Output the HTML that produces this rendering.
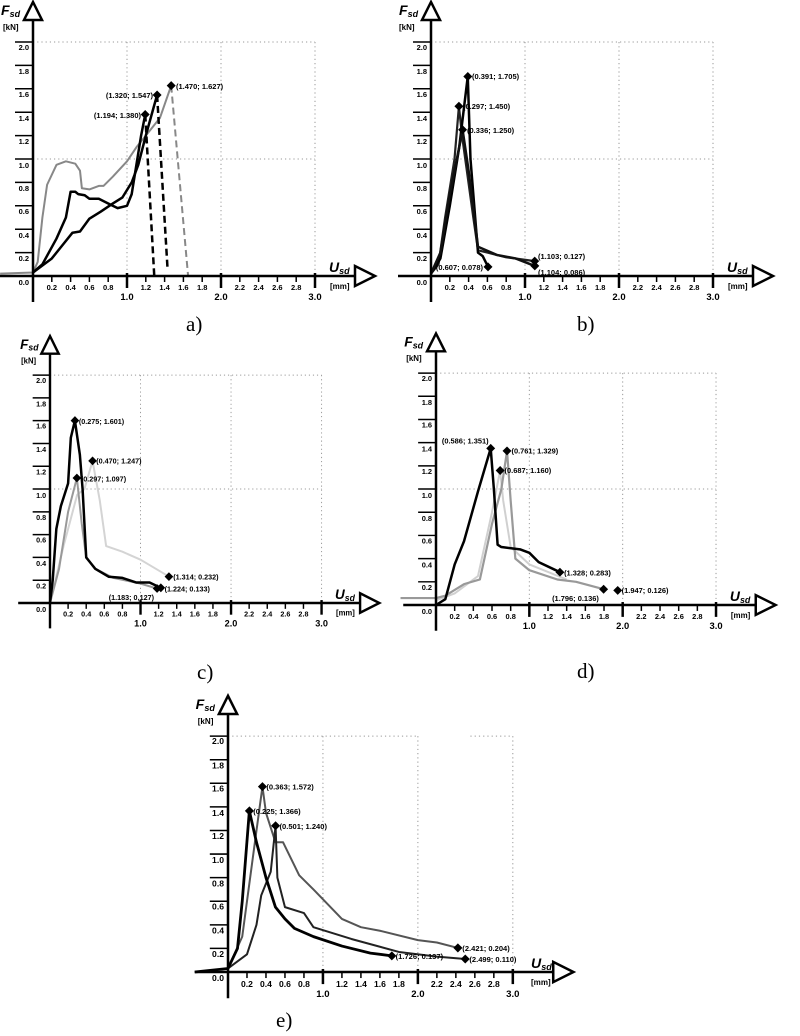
<!DOCTYPE html>
<html><head><meta charset="utf-8"><style>
body{margin:0;background:#fff}
svg{display:block}
text{font-family:"Liberation Sans",sans-serif;font-weight:bold;fill:#000}
.t{font-size:7.5px}
.mj{font-size:9.5px}
.lb{font-size:7.5px;font-weight:bold}
.cap{font-family:"Liberation Serif",serif;font-weight:normal;font-size:21px}
.g{stroke:#999;stroke-width:1;stroke-dasharray:1.2,3;fill:none}
.c{fill:none;stroke-linejoin:round;vector-effect:non-scaling-stroke}
</style></head><body>
<svg width="800" height="1036" viewBox="0 0 800 1036" xmlns="http://www.w3.org/2000/svg">
<defs>
<path id="dm" d="M0,-4.5 L4.5,0 L0,4.5 L-4.5,0Z" fill="#000"/>
</defs>

<!-- ===== Panel a ===== -->
<g transform="translate(33,276)">
<g class="g"><line x1="0" y1="-234" x2="282" y2="-234"/><line x1="0" y1="-117" x2="282" y2="-117"/><line x1="94" y1="-234" x2="94" y2="0"/><line x1="188" y1="-234" x2="188" y2="0"/><line x1="282" y1="-234" x2="282" y2="0"/></g>
<g transform="scale(94,-117)">
<polyline class="c" stroke="#888" stroke-width="2" points="-0.35,0.02 0,0.03 0.05,0.12 0.1,0.5 0.15,0.78 0.25,0.95 0.35,0.98 0.45,0.96 0.5,0.9 0.52,0.75 0.6,0.74 0.7,0.77 0.75,0.77 0.85,0.85 1,0.98 1.1,1.1 1.2,1.2 1.35,1.35 1.47,1.627"/>
<polyline class="c" stroke="#888" stroke-width="2" stroke-dasharray="7,4" points="1.47,1.627 1.65,0"/>
<polyline class="c" stroke="#000" stroke-width="2.5" points="0,0.03 0.1,0.1 0.25,0.32 0.35,0.5 0.4,0.72 0.45,0.72 0.48,0.7 0.55,0.69 0.6,0.66 0.7,0.66 0.8,0.62 0.9,0.58 1,0.6 1.05,0.7 1.1,0.95 1.15,1.2 1.194,1.38"/>
<polyline class="c" stroke="#000" stroke-width="2.5" stroke-dasharray="7,4" points="1.194,1.38 1.29,0"/>
<polyline class="c" stroke="#000" stroke-width="2.5" points="0,0.03 0.2,0.15 0.3,0.25 0.42,0.37 0.5,0.38 0.6,0.49 0.72,0.55 0.85,0.62 0.95,0.67 1.05,0.8 1.12,0.95 1.2,1.2 1.32,1.547"/>
<polyline class="c" stroke="#000" stroke-width="2.5" stroke-dasharray="7,4" points="1.32,1.547 1.43,0.08"/>
</g>
<use href="#dm" x="112.2" y="-161.5"/><use href="#dm" x="124.1" y="-181"/><use href="#dm" x="138.2" y="-190.4"/>
<text class="lb" x="108" y="-158" text-anchor="end">(1.194; 1.380)</text>
<text class="lb" x="120" y="-178" text-anchor="end">(1.320; 1.547)</text>
<text class="lb" x="143" y="-187">(1.470; 1.627)</text>
<g id="axA">
<line x1="-33" y1="0" x2="322" y2="0" stroke="#000" stroke-width="2.5"/>
<polygon points="322,-10 322,10 342,0" fill="#fff" stroke="#000" stroke-width="2.5"/>
<line x1="0" y1="-256" x2="0" y2="26" stroke="#000" stroke-width="2.5"/>
<polygon points="-9,-256 9,-256 0,-274" fill="#fff" stroke="#000" stroke-width="2.5"/>
<g stroke="#000" stroke-width="1.5">
<line x1="-18" y1="-23.4" x2="0" y2="-23.4"/><line x1="-18" y1="-46.8" x2="0" y2="-46.8"/><line x1="-18" y1="-70.2" x2="0" y2="-70.2"/><line x1="-18" y1="-93.6" x2="0" y2="-93.6"/><line x1="-18" y1="-117" x2="0" y2="-117"/><line x1="-18" y1="-140.4" x2="0" y2="-140.4"/><line x1="-18" y1="-163.8" x2="0" y2="-163.8"/><line x1="-18" y1="-187.2" x2="0" y2="-187.2"/><line x1="-18" y1="-210.6" x2="0" y2="-210.6"/><line x1="-18" y1="-234" x2="0" y2="-234"/>
<line x1="18.8" y1="0" x2="18.8" y2="6"/><line x1="37.6" y1="0" x2="37.6" y2="6"/><line x1="56.4" y1="0" x2="56.4" y2="6"/><line x1="75.2" y1="0" x2="75.2" y2="6"/><line x1="112.8" y1="0" x2="112.8" y2="6"/><line x1="131.6" y1="0" x2="131.6" y2="6"/><line x1="150.4" y1="0" x2="150.4" y2="6"/><line x1="169.2" y1="0" x2="169.2" y2="6"/><line x1="206.8" y1="0" x2="206.8" y2="6"/><line x1="225.6" y1="0" x2="225.6" y2="6"/><line x1="244.4" y1="0" x2="244.4" y2="6"/><line x1="263.2" y1="0" x2="263.2" y2="6"/>
</g>
<g stroke="#000" stroke-width="2.5"><line x1="94" y1="-3" x2="94" y2="12"/><line x1="188" y1="-3" x2="188" y2="12"/><line x1="282" y1="-3" x2="282" y2="12"/></g>
<g class="t" text-anchor="end">
<text x="-4" y="-15">0.2</text><text x="-4" y="-38">0.4</text><text x="-4" y="-62">0.6</text><text x="-4" y="-85">0.8</text><text x="-4" y="-108">1.0</text><text x="-4" y="-132">1.2</text><text x="-4" y="-155">1.4</text><text x="-4" y="-179">1.6</text><text x="-4" y="-202">1.8</text><text x="-4" y="-226">2.0</text><text x="-4" y="9">0.0</text>
</g>
<g class="t" text-anchor="middle">
<text x="18.8" y="14">0.2</text><text x="37.6" y="14">0.4</text><text x="56.4" y="14">0.6</text><text x="75.2" y="14">0.8</text><text x="112.8" y="14">1.2</text><text x="131.6" y="14">1.4</text><text x="150.4" y="14">1.6</text><text x="169.2" y="14">1.8</text><text x="206.8" y="14">2.2</text><text x="225.6" y="14">2.4</text><text x="244.4" y="14">2.6</text><text x="263.2" y="14">2.8</text>
</g>
<g class="mj" text-anchor="middle"><text x="94" y="24">1.0</text><text x="188" y="24">2.0</text><text x="282" y="24">3.0</text></g>
<text x="-32" y="-261" style="font-size:14px;font-style:italic">F<tspan style="font-size:9px" dy="2">sd</tspan></text>
<text x="-30" y="-246" style="font-size:8px">[kN]</text>
<text x="296" y="-4" style="font-size:14px;font-style:italic">U<tspan style="font-size:9px" dy="2">sd</tspan></text>
<text x="297" y="13" style="font-size:8px">[mm]</text>
</g>
</g>
<text class="cap" x="186" y="331">a)</text>

<!-- ===== Panel b ===== -->
<g transform="translate(431,276)">
<g class="g"><line x1="0" y1="-234" x2="282" y2="-234"/><line x1="0" y1="-117" x2="282" y2="-117"/><line x1="94" y1="-234" x2="94" y2="0"/><line x1="188" y1="-234" x2="188" y2="0"/><line x1="282" y1="-234" x2="282" y2="0"/></g>
<g transform="scale(94,-117)">
<polyline class="c" stroke="#222" stroke-width="2.2" points="0,0.02 0.08,0.1 0.15,0.5 0.25,1.0 0.297,1.45 0.33,1.2 0.45,0.5 0.5,0.22 0.6,0.2 0.8,0.16 1.103,0.127"/>
<polyline class="c" stroke="#000" stroke-width="2.5" points="0,0.02 0.1,0.15 0.2,0.6 0.3,1.1 0.391,1.705 0.42,1.0 0.5,0.2 0.55,0.17 0.607,0.078"/>
<polyline class="c" stroke="#111" stroke-width="2.5" points="0,0.02 0.1,0.2 0.2,0.7 0.3,1.1 0.336,1.25 0.4,0.9 0.5,0.25 0.7,0.18 0.9,0.15 1.104,0.086"/>
</g>
<use href="#dm" x="36.8" y="-199.5"/><use href="#dm" x="27.9" y="-169.7"/><use href="#dm" x="31.6" y="-146.3"/><use href="#dm" x="103.7" y="-14.9"/><use href="#dm" x="103.8" y="-10.1"/><use href="#dm" x="57" y="-9.1"/>
<text class="lb" x="41" y="-197">(0.391; 1.705)</text>
<text class="lb" x="32" y="-167">(0.297; 1.450)</text>
<text class="lb" x="36" y="-143">(0.336; 1.250)</text>
<text class="lb" x="107" y="-17">(1.103; 0.127)</text>
<text class="lb" x="107" y="-1">(1.104; 0.086)</text>
<text class="lb" x="52" y="-6" text-anchor="end">(0.607; 0.078)</text>
<line x1="-33" y1="0" x2="322" y2="0" stroke="#000" stroke-width="2.5"/>
<polygon points="322,-10 322,10 342,0" fill="#fff" stroke="#000" stroke-width="2.5"/>
<line x1="0" y1="-256" x2="0" y2="26" stroke="#000" stroke-width="2.5"/>
<polygon points="-9,-256 9,-256 0,-274" fill="#fff" stroke="#000" stroke-width="2.5"/>
<g stroke="#000" stroke-width="1.5">
<line x1="-18" y1="-23.4" x2="0" y2="-23.4"/><line x1="-18" y1="-46.8" x2="0" y2="-46.8"/><line x1="-18" y1="-70.2" x2="0" y2="-70.2"/><line x1="-18" y1="-93.6" x2="0" y2="-93.6"/><line x1="-18" y1="-117" x2="0" y2="-117"/><line x1="-18" y1="-140.4" x2="0" y2="-140.4"/><line x1="-18" y1="-163.8" x2="0" y2="-163.8"/><line x1="-18" y1="-187.2" x2="0" y2="-187.2"/><line x1="-18" y1="-210.6" x2="0" y2="-210.6"/><line x1="-18" y1="-234" x2="0" y2="-234"/>
<line x1="18.8" y1="0" x2="18.8" y2="6"/><line x1="37.6" y1="0" x2="37.6" y2="6"/><line x1="56.4" y1="0" x2="56.4" y2="6"/><line x1="75.2" y1="0" x2="75.2" y2="6"/><line x1="112.8" y1="0" x2="112.8" y2="6"/><line x1="131.6" y1="0" x2="131.6" y2="6"/><line x1="150.4" y1="0" x2="150.4" y2="6"/><line x1="169.2" y1="0" x2="169.2" y2="6"/><line x1="206.8" y1="0" x2="206.8" y2="6"/><line x1="225.6" y1="0" x2="225.6" y2="6"/><line x1="244.4" y1="0" x2="244.4" y2="6"/><line x1="263.2" y1="0" x2="263.2" y2="6"/>
</g>
<g stroke="#000" stroke-width="2.5"><line x1="94" y1="-3" x2="94" y2="12"/><line x1="188" y1="-3" x2="188" y2="12"/><line x1="282" y1="-3" x2="282" y2="12"/></g>
<g class="t" text-anchor="end">
<text x="-4" y="-15">0.2</text><text x="-4" y="-38">0.4</text><text x="-4" y="-62">0.6</text><text x="-4" y="-85">0.8</text><text x="-4" y="-108">1.0</text><text x="-4" y="-132">1.2</text><text x="-4" y="-155">1.4</text><text x="-4" y="-179">1.6</text><text x="-4" y="-202">1.8</text><text x="-4" y="-226">2.0</text><text x="-4" y="9">0.0</text>
</g>
<g class="t" text-anchor="middle">
<text x="18.8" y="14">0.2</text><text x="37.6" y="14">0.4</text><text x="56.4" y="14">0.6</text><text x="75.2" y="14">0.8</text><text x="112.8" y="14">1.2</text><text x="131.6" y="14">1.4</text><text x="150.4" y="14">1.6</text><text x="169.2" y="14">1.8</text><text x="206.8" y="14">2.2</text><text x="225.6" y="14">2.4</text><text x="244.4" y="14">2.6</text><text x="263.2" y="14">2.8</text>
</g>
<g class="mj" text-anchor="middle"><text x="94" y="24">1.0</text><text x="188" y="24">2.0</text><text x="282" y="24">3.0</text></g>
<text x="-32" y="-261" style="font-size:14px;font-style:italic">F<tspan style="font-size:9px" dy="2">sd</tspan></text>
<text x="-32" y="-246" style="font-size:8px">[kN]</text>
<text x="296" y="-4" style="font-size:14px;font-style:italic">U<tspan style="font-size:9px" dy="2">sd</tspan></text>
<text x="297" y="13" style="font-size:8px">[mm]</text>
</g>
<text class="cap" x="577" y="331">b)</text>

<!-- ===== Panel c ===== -->
<g transform="translate(50,603) scale(0.963,0.974)">
<g class="g"><line x1="0" y1="-234" x2="282" y2="-234"/><line x1="0" y1="-117" x2="282" y2="-117"/><line x1="94" y1="-234" x2="94" y2="0"/><line x1="188" y1="-234" x2="188" y2="0"/><line x1="282" y1="-234" x2="282" y2="0"/></g>
<g transform="scale(94,-117)">
<polyline class="c" stroke="#d4d4d4" stroke-width="2" points="0,0 0.15,0.5 0.3,0.95 0.38,1.0 0.47,1.247 0.55,0.9 0.62,0.5 0.8,0.45 1.0,0.38 1.314,0.232"/>
<polyline class="c" stroke="#999" stroke-width="2" points="-0.35,0 0,0 0.1,0.3 0.2,0.8 0.297,1.097 0.35,0.7 0.4,0.4 0.5,0.3 0.7,0.22 1.0,0.17 1.183,0.127"/>
<polyline class="c" stroke="#000" stroke-width="2.5" points="0,0 0.03,0.2 0.07,0.65 0.12,0.85 0.2,1.05 0.23,1.45 0.275,1.601 0.33,1.3 0.36,1.0 0.4,0.4 0.45,0.35 0.5,0.3 0.65,0.23 0.8,0.22 0.95,0.18 1.1,0.18 1.224,0.133"/>
</g>
<use href="#dm" x="25.9" y="-187.3"/><use href="#dm" x="44.2" y="-145.9"/><use href="#dm" x="27.9" y="-128.3"/><use href="#dm" x="123.5" y="-27.1"/><use href="#dm" x="115.1" y="-15.6"/><use href="#dm" x="111.2" y="-14.9"/>
<text class="lb" x="30" y="-184">(0.275; 1.601)</text>
<text class="lb" x="48" y="-143">(0.470; 1.247)</text>
<text class="lb" x="32" y="-125">(0.297; 1.097)</text>
<text class="lb" x="128" y="-24">(1.314; 0.232)</text>
<text class="lb" x="119" y="-12">(1.224; 0.133)</text>
<text class="lb" x="108" y="-3" text-anchor="end">(1.183; 0,127)</text>
<line x1="-33" y1="0" x2="322" y2="0" stroke="#000" stroke-width="2.5"/>
<polygon points="322,-10 322,10 342,0" fill="#fff" stroke="#000" stroke-width="2.5"/>
<line x1="0" y1="-256" x2="0" y2="26" stroke="#000" stroke-width="2.5"/>
<polygon points="-9,-256 9,-256 0,-274" fill="#fff" stroke="#000" stroke-width="2.5"/>
<g stroke="#000" stroke-width="1.5">
<line x1="-18" y1="-23.4" x2="0" y2="-23.4"/><line x1="-18" y1="-46.8" x2="0" y2="-46.8"/><line x1="-18" y1="-70.2" x2="0" y2="-70.2"/><line x1="-18" y1="-93.6" x2="0" y2="-93.6"/><line x1="-18" y1="-117" x2="0" y2="-117"/><line x1="-18" y1="-140.4" x2="0" y2="-140.4"/><line x1="-18" y1="-163.8" x2="0" y2="-163.8"/><line x1="-18" y1="-187.2" x2="0" y2="-187.2"/><line x1="-18" y1="-210.6" x2="0" y2="-210.6"/><line x1="-18" y1="-234" x2="0" y2="-234"/>
<line x1="18.8" y1="0" x2="18.8" y2="6"/><line x1="37.6" y1="0" x2="37.6" y2="6"/><line x1="56.4" y1="0" x2="56.4" y2="6"/><line x1="75.2" y1="0" x2="75.2" y2="6"/><line x1="112.8" y1="0" x2="112.8" y2="6"/><line x1="131.6" y1="0" x2="131.6" y2="6"/><line x1="150.4" y1="0" x2="150.4" y2="6"/><line x1="169.2" y1="0" x2="169.2" y2="6"/><line x1="206.8" y1="0" x2="206.8" y2="6"/><line x1="225.6" y1="0" x2="225.6" y2="6"/><line x1="244.4" y1="0" x2="244.4" y2="6"/><line x1="263.2" y1="0" x2="263.2" y2="6"/>
</g>
<g stroke="#000" stroke-width="2.5"><line x1="94" y1="-3" x2="94" y2="12"/><line x1="188" y1="-3" x2="188" y2="12"/><line x1="282" y1="-3" x2="282" y2="12"/></g>
<g class="t" text-anchor="end">
<text x="-4" y="-15">0.2</text><text x="-4" y="-38">0.4</text><text x="-4" y="-62">0.6</text><text x="-4" y="-85">0.8</text><text x="-4" y="-108">1.0</text><text x="-4" y="-132">1.2</text><text x="-4" y="-155">1.4</text><text x="-4" y="-179">1.6</text><text x="-4" y="-202">1.8</text><text x="-4" y="-226">2.0</text><text x="-4" y="9">0.0</text>
</g>
<g class="t" text-anchor="middle">
<text x="18.8" y="14">0.2</text><text x="37.6" y="14">0.4</text><text x="56.4" y="14">0.6</text><text x="75.2" y="14">0.8</text><text x="112.8" y="14">1.2</text><text x="131.6" y="14">1.4</text><text x="150.4" y="14">1.6</text><text x="169.2" y="14">1.8</text><text x="206.8" y="14">2.2</text><text x="225.6" y="14">2.4</text><text x="244.4" y="14">2.6</text><text x="263.2" y="14">2.8</text>
</g>
<g class="mj" text-anchor="middle"><text x="94" y="24">1.0</text><text x="188" y="24">2.0</text><text x="282" y="24">3.0</text></g>
<text x="-31" y="-261" style="font-size:14px;font-style:italic">F<tspan style="font-size:9px" dy="2">sd</tspan></text>
<text x="-30" y="-246" style="font-size:8px">[kN]</text>
<text x="296" y="-4" style="font-size:14px;font-style:italic">U<tspan style="font-size:9px" dy="2">sd</tspan></text>
<text x="297" y="13" style="font-size:8px">[mm]</text>
</g>
<text class="cap" x="197" y="679">c)</text>

<!-- ===== Panel d ===== -->
<g transform="translate(436,605) scale(0.993,0.991)">
<g class="g"><line x1="0" y1="-234" x2="282" y2="-234"/><line x1="0" y1="-117" x2="282" y2="-117"/><line x1="94" y1="-234" x2="94" y2="0"/><line x1="188" y1="-234" x2="188" y2="0"/><line x1="282" y1="-234" x2="282" y2="0"/></g>
<g transform="scale(94,-117)">
<polyline class="c" stroke="#d0d0d0" stroke-width="2" points="0,0.04 0.2,0.1 0.45,0.25 0.6,0.8 0.687,1.16 0.72,0.9 0.8,0.5 1.0,0.35 1.4,0.22"/>
<polyline class="c" stroke="#999" stroke-width="2.2" points="-0.38,0.06 0,0.06 0.1,0.08 0.3,0.18 0.47,0.22 0.6,0.7 0.7,1.0 0.761,1.329 0.8,0.9 0.85,0.4 1.0,0.3 1.3,0.22 1.5,0.2 1.796,0.136"/>
<polyline class="c" stroke="#000" stroke-width="2.5" points="0,0 0.1,0.05 0.2,0.35 0.3,0.55 0.45,0.98 0.586,1.351 0.62,1.0 0.66,0.52 0.7,0.5 0.9,0.48 1.0,0.45 1.1,0.37 1.328,0.283"/>
</g>
<use href="#dm" x="55.1" y="-158.1"/><use href="#dm" x="71.5" y="-155.5"/><use href="#dm" x="64.6" y="-135.7"/><use href="#dm" x="124.8" y="-33.1"/><use href="#dm" x="168.8" y="-15.9"/><use href="#dm" x="183" y="-14.7"/>
<text class="lb" x="53" y="-163" text-anchor="end">(0.586; 1.351)</text>
<text class="lb" x="76" y="-153">(0.761; 1.329)</text>
<text class="lb" x="69" y="-133">(0.687; 1.160)</text>
<text class="lb" x="129" y="-30">(1.328; 0.283)</text>
<text class="lb" x="164" y="-4" text-anchor="end">(1.796; 0.136)</text>
<text class="lb" x="187" y="-12">(1.947; 0.126)</text>
<line x1="-33" y1="0" x2="322" y2="0" stroke="#000" stroke-width="2.5"/>
<polygon points="322,-10 322,10 342,0" fill="#fff" stroke="#000" stroke-width="2.5"/>
<line x1="0" y1="-256" x2="0" y2="26" stroke="#000" stroke-width="2.5"/>
<polygon points="-9,-256 9,-256 0,-274" fill="#fff" stroke="#000" stroke-width="2.5"/>
<g stroke="#000" stroke-width="1.5">
<line x1="-18" y1="-23.4" x2="0" y2="-23.4"/><line x1="-18" y1="-46.8" x2="0" y2="-46.8"/><line x1="-18" y1="-70.2" x2="0" y2="-70.2"/><line x1="-18" y1="-93.6" x2="0" y2="-93.6"/><line x1="-18" y1="-117" x2="0" y2="-117"/><line x1="-18" y1="-140.4" x2="0" y2="-140.4"/><line x1="-18" y1="-163.8" x2="0" y2="-163.8"/><line x1="-18" y1="-187.2" x2="0" y2="-187.2"/><line x1="-18" y1="-210.6" x2="0" y2="-210.6"/><line x1="-18" y1="-234" x2="0" y2="-234"/>
<line x1="18.8" y1="0" x2="18.8" y2="6"/><line x1="37.6" y1="0" x2="37.6" y2="6"/><line x1="56.4" y1="0" x2="56.4" y2="6"/><line x1="75.2" y1="0" x2="75.2" y2="6"/><line x1="112.8" y1="0" x2="112.8" y2="6"/><line x1="131.6" y1="0" x2="131.6" y2="6"/><line x1="150.4" y1="0" x2="150.4" y2="6"/><line x1="169.2" y1="0" x2="169.2" y2="6"/><line x1="206.8" y1="0" x2="206.8" y2="6"/><line x1="225.6" y1="0" x2="225.6" y2="6"/><line x1="244.4" y1="0" x2="244.4" y2="6"/><line x1="263.2" y1="0" x2="263.2" y2="6"/>
</g>
<g stroke="#000" stroke-width="2.5"><line x1="94" y1="-3" x2="94" y2="12"/><line x1="188" y1="-3" x2="188" y2="12"/><line x1="282" y1="-3" x2="282" y2="12"/></g>
<g class="t" text-anchor="end">
<text x="-4" y="-15">0.2</text><text x="-4" y="-38">0.4</text><text x="-4" y="-62">0.6</text><text x="-4" y="-85">0.8</text><text x="-4" y="-108">1.0</text><text x="-4" y="-132">1.2</text><text x="-4" y="-155">1.4</text><text x="-4" y="-179">1.6</text><text x="-4" y="-202">1.8</text><text x="-4" y="-226">2.0</text><text x="-4" y="9">0.0</text>
</g>
<g class="t" text-anchor="middle">
<text x="18.8" y="14">0.2</text><text x="37.6" y="14">0.4</text><text x="56.4" y="14">0.6</text><text x="75.2" y="14">0.8</text><text x="112.8" y="14">1.2</text><text x="131.6" y="14">1.4</text><text x="150.4" y="14">1.6</text><text x="169.2" y="14">1.8</text><text x="206.8" y="14">2.2</text><text x="225.6" y="14">2.4</text><text x="244.4" y="14">2.6</text><text x="263.2" y="14">2.8</text>
</g>
<g class="mj" text-anchor="middle"><text x="94" y="24">1.0</text><text x="188" y="24">2.0</text><text x="282" y="24">3.0</text></g>
<text x="-32" y="-261" style="font-size:14px;font-style:italic">F<tspan style="font-size:9px" dy="2">sd</tspan></text>
<text x="-30" y="-246" style="font-size:8px">[kN]</text>
<text x="296" y="-4" style="font-size:14px;font-style:italic">U<tspan style="font-size:9px" dy="2">sd</tspan></text>
<text x="297" y="13" style="font-size:8px">[mm]</text>
</g>
<text class="cap" x="577" y="678">d)</text>

<!-- ===== Panel e ===== -->
<g transform="translate(228,972) scale(1.01,1.008)">
<g class="g"><line x1="0" y1="-234" x2="188" y2="-234"/><line x1="240" y1="-234" x2="282" y2="-234"/><line x1="94" y1="-234" x2="94" y2="0"/><line x1="188" y1="-234" x2="188" y2="0"/><line x1="282" y1="-234" x2="282" y2="0"/></g>
<g transform="scale(94,-117)">
<polyline class="c" stroke="#555" stroke-width="2" points="0,0.03 0.15,0.3 0.25,0.9 0.3,1.2 0.363,1.572 0.4,1.35 0.5,1.1 0.58,1.1 0.75,0.82 0.9,0.7 1.2,0.45 1.4,0.38 1.6,0.35 2.0,0.27 2.2,0.25 2.421,0.204"/>
<polyline class="c" stroke="#222" stroke-width="2" points="0,0.03 0.2,0.15 0.3,0.4 0.35,0.65 0.45,0.85 0.501,1.24 0.52,0.8 0.6,0.55 0.8,0.5 0.9,0.38 1.3,0.28 1.8,0.17 2.2,0.13 2.499,0.11"/>
<polyline class="c" stroke="#000" stroke-width="2.8" points="-0.35,0 0,0.03 0.1,0.2 0.15,0.6 0.225,1.366 0.3,1.1 0.4,0.8 0.5,0.55 0.6,0.45 0.7,0.37 0.9,0.3 1.2,0.22 1.5,0.16 1.726,0.137"/>
</g>
<use href="#dm" x="34.1" y="-183.9"/><use href="#dm" x="21.2" y="-159.8"/><use href="#dm" x="47.1" y="-145.1"/><use href="#dm" x="227.6" y="-23.9"/><use href="#dm" x="234.9" y="-12.9"/><use href="#dm" x="162.2" y="-16"/>
<text class="lb" x="38" y="-181">(0.363; 1.572)</text>
<text class="lb" x="25" y="-157">(0.225; 1.366)</text>
<text class="lb" x="51" y="-142">(0.501; 1.240)</text>
<text class="lb" x="232" y="-21">(2.421; 0.204)</text>
<text class="lb" x="239" y="-10">(2.499; 0.110)</text>
<text class="lb" x="166" y="-13">(1.726; 0.137)</text>
<line x1="-33" y1="0" x2="322" y2="0" stroke="#000" stroke-width="2.5"/>
<polygon points="322,-10 322,10 342,0" fill="#fff" stroke="#000" stroke-width="2.5"/>
<line x1="0" y1="-256" x2="0" y2="26" stroke="#000" stroke-width="2.5"/>
<polygon points="-9,-256 9,-256 0,-274" fill="#fff" stroke="#000" stroke-width="2.5"/>
<g stroke="#000" stroke-width="1.5">
<line x1="-18" y1="-23.4" x2="0" y2="-23.4"/><line x1="-18" y1="-46.8" x2="0" y2="-46.8"/><line x1="-18" y1="-70.2" x2="0" y2="-70.2"/><line x1="-18" y1="-93.6" x2="0" y2="-93.6"/><line x1="-18" y1="-117" x2="0" y2="-117"/><line x1="-18" y1="-140.4" x2="0" y2="-140.4"/><line x1="-18" y1="-163.8" x2="0" y2="-163.8"/><line x1="-18" y1="-187.2" x2="0" y2="-187.2"/><line x1="-18" y1="-210.6" x2="0" y2="-210.6"/><line x1="-18" y1="-234" x2="0" y2="-234"/>
<line x1="18.8" y1="0" x2="18.8" y2="6"/><line x1="37.6" y1="0" x2="37.6" y2="6"/><line x1="56.4" y1="0" x2="56.4" y2="6"/><line x1="75.2" y1="0" x2="75.2" y2="6"/><line x1="112.8" y1="0" x2="112.8" y2="6"/><line x1="131.6" y1="0" x2="131.6" y2="6"/><line x1="150.4" y1="0" x2="150.4" y2="6"/><line x1="169.2" y1="0" x2="169.2" y2="6"/><line x1="206.8" y1="0" x2="206.8" y2="6"/><line x1="225.6" y1="0" x2="225.6" y2="6"/><line x1="244.4" y1="0" x2="244.4" y2="6"/><line x1="263.2" y1="0" x2="263.2" y2="6"/>
</g>
<g stroke="#000" stroke-width="2.5"><line x1="94" y1="-3" x2="94" y2="12"/><line x1="188" y1="-3" x2="188" y2="12"/><line x1="282" y1="-3" x2="282" y2="12"/></g>
<g class="t" text-anchor="end" style="font-size:8.5px">
<text x="-4" y="-15">0.2</text><text x="-4" y="-38">0.4</text><text x="-4" y="-62">0.6</text><text x="-4" y="-85">0.8</text><text x="-4" y="-108">1.0</text><text x="-4" y="-132">1.2</text><text x="-4" y="-155">1.4</text><text x="-4" y="-179">1.6</text><text x="-4" y="-202">1.8</text><text x="-4" y="-226">2.0</text><text x="-4" y="9">0.0</text>
</g>
<g class="t" text-anchor="middle" style="font-size:8.5px">
<text x="18.8" y="15">0.2</text><text x="37.6" y="15">0.4</text><text x="56.4" y="15">0.6</text><text x="75.2" y="15">0.8</text><text x="112.8" y="15">1.2</text><text x="131.6" y="15">1.4</text><text x="150.4" y="15">1.6</text><text x="169.2" y="15">1.8</text><text x="206.8" y="15">2.2</text><text x="225.6" y="15">2.4</text><text x="244.4" y="15">2.6</text><text x="263.2" y="15">2.8</text>
</g>
<g class="mj" text-anchor="middle"><text x="94" y="25">1.0</text><text x="188" y="25">2.0</text><text x="282" y="25">3.0</text></g>
<text x="-32" y="-261" style="font-size:14px;font-style:italic">F<tspan style="font-size:9px" dy="2">sd</tspan></text>
<text x="-30" y="-246" style="font-size:8px">[kN]</text>
<text x="300" y="-4" style="font-size:14px;font-style:italic">U<tspan style="font-size:9px" dy="2">sd</tspan></text>
<text x="300" y="13" style="font-size:8px">[mm]</text>
</g>
<text class="cap" x="276" y="1027">e)</text>
</svg>
</body></html>
